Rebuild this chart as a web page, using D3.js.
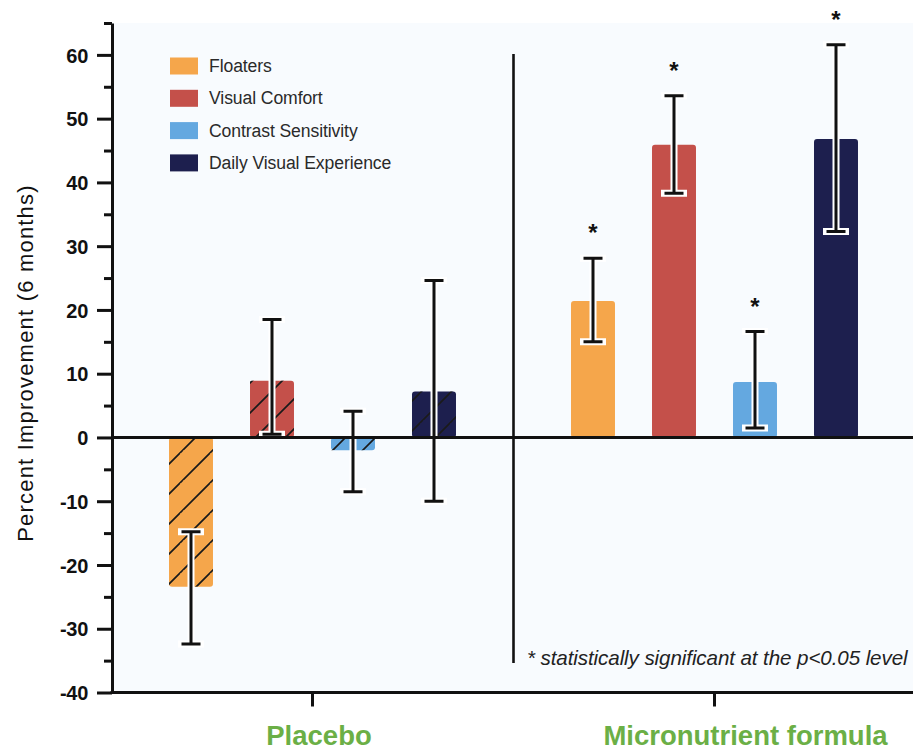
<!DOCTYPE html>
<html>
<head>
<meta charset="utf-8">
<script src="https://cdn.jsdelivr.net/npm/d3@7"></script>
<style>
  html, body { margin: 0; padding: 0; background: #ffffff; }
  svg { display: block; font-family: "Liberation Sans", Arial, Helvetica, sans-serif; }
</style>
</head>
<body>
<svg id="chart" width="913" height="750"></svg>
<script>
// ---- data ----
const groups = ["Placebo", "Micronutrient formula"];
const series = ["Floaters", "Visual Comfort", "Contrast Sensitivity", "Daily Visual Experience"];
const seriesColors = ["#F5A64B", "#C4504A", "#64A8E0", "#1D1F4E"];

const placeboValues = [-23.4, 8.9, -2.0, 7.2];
const placeboLow    = [-32.4, 0.5, -8.5, -10.0];
const placeboHigh   = [-14.8, 18.5, 4.1, 24.6];
const placeboSignificant = [false, false, false, false];

const formulaValues = [21.4, 45.9, 8.7, 46.8];
const formulaLow    = [15.0, 38.3, 1.5, 32.3];
const formulaHigh   = [28.1, 53.6, 16.6, 61.6];
const formulaSignificant = [true, true, true, true];

const groupHatched = [true, false];

const yMajorTicks = [-40, -30, -20, -10, 0, 10, 20, 30, 40, 50, 60];
const yMajorLabels = ["-40", "-30", "-20", "-10", "0", "10", "20", "30", "40", "50", "60"];
const yMinorTicks = [-35, -25, -15, -5, 5, 15, 25, 35, 45, 55, 65];
const yDomain = [-40, 65];

const yLabel = "Percent Improvement (6 months)";
const footnote = "* statistically significant at the p<0.05 level";

// ---- build rows ----
const groupData = [
  { group: groups[0], values: placeboValues, low: placeboLow, high: placeboHigh, sig: placeboSignificant, hatched: groupHatched[0] },
  { group: groups[1], values: formulaValues, low: formulaLow, high: formulaHigh, sig: formulaSignificant, hatched: groupHatched[1] }
];
const rows = [];
groupData.forEach(g => {
  series.forEach((s, i) => {
    rows.push({ group: g.group, series: s, value: g.values[i], low: g.low[i], high: g.high[i], sig: g.sig[i], hatched: g.hatched });
  });
});

// ---- layout ----
const plotLeft = 112, plotRight = 913, plotTop = 23, plotBottom = 692.5;

const svg = d3.select("#chart");

const y = d3.scaleLinear().domain(yDomain).range([plotBottom, plotTop]);
const x0 = d3.scaleBand().domain(groups).range([111.5, 915.5]).padding(0);
const x1 = d3.scaleBand().domain(series).range([-162, 162]).paddingInner(0.457).paddingOuter(0.2285);
const color = d3.scaleOrdinal().domain(series).range(seriesColors);

// defs: hatch pattern
const defs = svg.append("defs");
const pat = defs.append("pattern")
  .attr("id", "hatch")
  .attr("patternUnits", "userSpaceOnUse")
  .attr("width", 30).attr("height", 30);
pat.append("path")
  .attr("d", "M0,3 L3,0 M3,30 L30,3 M-1,34 L34,-1")
  .attr("stroke", "#1a1a1a").attr("stroke-width", 1.7).attr("fill", "none");

// plot background
svg.append("rect")
  .attr("x", plotLeft).attr("y", plotTop)
  .attr("width", plotRight - plotLeft).attr("height", plotBottom - plotTop)
  .attr("fill", "#F8FBFE");

// bars
const bx = d => x0(d.group) + x0.bandwidth() / 2 + x1(d.series);
const bars = svg.append("g").attr("class", "bars");
bars.selectAll("rect.bar").data(rows).join("rect")
  .attr("class", "bar")
  .attr("x", bx)
  .attr("width", x1.bandwidth())
  .attr("y", d => y(Math.max(0, d.value)))
  .attr("height", d => Math.abs(y(d.value) - y(0)))
  .attr("rx", 3)
  .attr("fill", d => color(d.series));
bars.selectAll("rect.hatch").data(rows.filter(d => d.hatched)).join("rect")
  .attr("class", "hatch")
  .attr("x", bx)
  .attr("width", x1.bandwidth())
  .attr("y", d => y(Math.max(0, d.value)))
  .attr("height", d => Math.abs(y(d.value) - y(0)))
  .attr("fill", "url(#hatch)");

// error bars
const cx = d => bx(d) + x1.bandwidth() / 2;
const capHalf = 9.5;
const errPath = d =>
  `M${cx(d)},${y(d.high)} L${cx(d)},${y(d.low)} M${cx(d) - capHalf},${y(d.high)} L${cx(d) + capHalf},${y(d.high)} M${cx(d) - capHalf},${y(d.low)} L${cx(d) + capHalf},${y(d.low)}`;
const eg = svg.append("g").attr("class", "errors");
eg.selectAll("path.halo").data(rows).join("path")
  .attr("class", "halo").attr("d", errPath)
  .attr("stroke", "#ffffff").attr("stroke-width", 7).attr("fill", "none").attr("stroke-linecap", "square");
eg.selectAll("path.err").data(rows).join("path")
  .attr("class", "err").attr("d", errPath)
  .attr("stroke", "#111111").attr("stroke-width", 3).attr("fill", "none");

// asterisks
svg.append("g").selectAll("text").data(rows.filter(d => d.sig)).join("text")
  .attr("x", cx)
  .attr("y", d => y(d.high) - 17)
  .attr("text-anchor", "middle")
  .attr("font-size", 24).attr("font-weight", "bold").attr("fill", "#111")
  .text("*");

// zero line
svg.append("line")
  .attr("x1", plotLeft).attr("x2", plotRight)
  .attr("y1", y(0)).attr("y2", y(0))
  .attr("stroke", "#111").attr("stroke-width", 3);

// separator line
svg.append("line")
  .attr("x1", x0(groups[1])).attr("x2", x0(groups[1]))
  .attr("y1", 54).attr("y2", 663)
  .attr("stroke", "#111").attr("stroke-width", 2.6);

// y axis
const yAxisMinor = svg.append("g")
  .attr("transform", `translate(${plotLeft},0)`)
  .call(d3.axisLeft(y).tickValues(yMinorTicks).tickSize(8).tickSizeOuter(0).tickFormat(""));
yAxisMinor.select(".domain").remove();
yAxisMinor.selectAll("line").attr("stroke", "#111").attr("stroke-width", 3);

const yAxis = svg.append("g")
  .attr("transform", `translate(${plotLeft},0)`)
  .call(d3.axisLeft(y).tickValues(yMajorTicks).tickSize(15).tickSizeOuter(0).tickPadding(9)
    .tickFormat((d, i) => yMajorLabels[i]));
yAxis.select(".domain").attr("stroke", "#111").attr("stroke-width", 3);
yAxis.selectAll(".tick line").attr("stroke", "#111").attr("stroke-width", 3);
yAxis.selectAll(".tick text")
  .attr("font-family", "'Liberation Sans', Arial, sans-serif")
  .attr("font-size", 20).attr("font-weight", "bold").attr("fill", "#111")
  .attr("letter-spacing", -0.3)
  .attr("dy", "0.36em");

// x axis
const xAxis = svg.append("g")
  .attr("transform", `translate(0,${plotBottom})`)
  .call(d3.axisBottom(x0).tickSize(14).tickSizeOuter(0).tickFormat(""));
xAxis.select(".domain").remove();
xAxis.selectAll(".tick line").attr("stroke", "#111").attr("stroke-width", 3);
svg.append("line")
  .attr("x1", plotLeft - 1.5).attr("x2", plotRight)
  .attr("y1", plotBottom).attr("y2", plotBottom)
  .attr("stroke", "#111").attr("stroke-width", 3);

// x group labels
const labelShift = [6.5, 31];
svg.append("g").selectAll("text").data(groups).join("text")
  .attr("x", (d, i) => x0(d) + x0.bandwidth() / 2 + labelShift[i])
  .attr("y", 745)
  .attr("text-anchor", "middle")
  .attr("font-size", 27.5).attr("font-weight", "bold").attr("fill", "#6BAF46")
  .text(d => d);

// y label
svg.append("text")
  .attr("transform", `translate(33,${363}) rotate(-90)`)
  .attr("text-anchor", "middle")
  .attr("font-size", 22).attr("fill", "#111")
  .attr("letter-spacing", 1.2)
  .text(yLabel);

// legend
const legend = svg.append("g").attr("transform", "translate(170,66)");
const li = legend.selectAll("g").data(series).join("g")
  .attr("transform", (d, i) => `translate(0,${i * 32.3})`);
li.append("rect").attr("x", 0).attr("y", -8.5).attr("width", 28).attr("height", 17)
  .attr("fill", d => color(d));
li.append("text").attr("x", 39).attr("y", 0).attr("dy", "0.35em")
  .attr("font-size", 17.6).attr("fill", "#2a2a2a").attr("letter-spacing", -0.1)
  .text(d => d);

// footnote
svg.append("text")
  .attr("x", 527).attr("y", 665)
  .attr("font-size", 20.6).attr("font-style", "italic").attr("fill", "#222")
  .attr("letter-spacing", -0.1)
  .text(footnote);
</script>
</body>
</html>
